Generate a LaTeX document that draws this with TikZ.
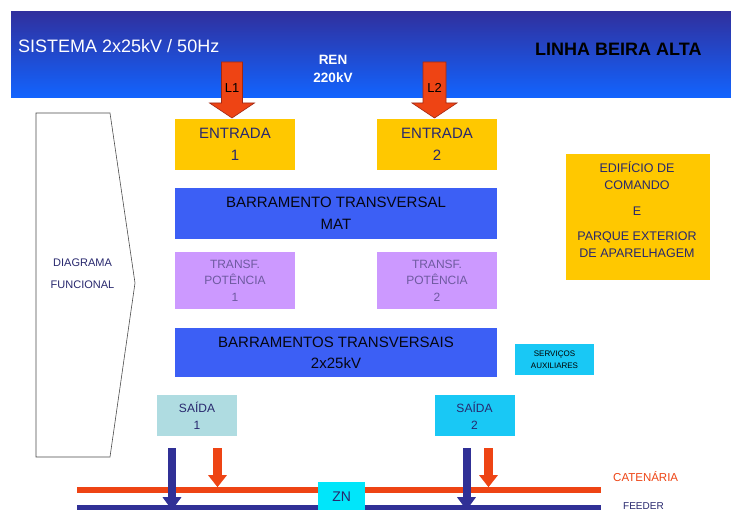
\documentclass[tikz,border=0pt]{standalone}
\usepackage{fontspec}
\setmainfont{Liberation Sans}
\usetikzlibrary{arrows.meta,calc}
\definecolor{bantop}{RGB}{48,48,158}
\definecolor{banbot}{RGB}{18,100,255}
\definecolor{busblue}{RGB}{60,95,245}
\definecolor{gold}{RGB}{255,200,0}
\definecolor{lav}{RGB}{204,153,255}
\definecolor{cyanbox}{RGB}{25,200,245}
\definecolor{paleteal}{RGB}{175,220,225}
\definecolor{zncyan}{RGB}{0,230,250}
\definecolor{arrred}{RGB}{238,68,20}
\definecolor{arrdark}{RGB}{160,40,20}
\definecolor{navy}{RGB}{40,40,110}
\definecolor{feedblue}{RGB}{48,48,150}
\definecolor{lavtext}{RGB}{110,90,160}
\begin{document}
\begin{tikzpicture}[x=1pt,y=-1pt,
  box/.style={inner sep=0pt, align=center},
  entry/.style={box, fill=gold, minimum width=120pt, minimum height=51pt, text=navy, font=\fontsize{15}{22}\selectfont},
  bus/.style={box, fill=busblue, minimum width=322pt, text={black!85!navy}, font=\fontsize{15}{22}\selectfont},
  trafo/.style={box, fill=lav, minimum width=120pt, minimum height=57pt, text=lavtext, font=\fontsize{12}{16.5}\selectfont},
  exitbox/.style={box, minimum width=80pt, minimum height=41pt, text=navy, font=\fontsize{12}{17}\selectfont},
  bigarrow/.style={fill=arrred, draw=arrdark, line width=0.6pt},
  feedarrow/.style={feedblue, line width=8pt, -{Triangle[width=18pt,length=13pt]}},
  catarrow/.style={arrred, line width=9pt, -{Triangle[width=18pt,length=12pt]}}]
\useasboundingbox (0,0) rectangle (731,510);
\fill[white] (0,0) rectangle (731,510);
% banner
\shade[top color=bantop, bottom color=banbot] (11,12) rectangle (731,98);
\node[anchor=base west, text=white, inner sep=0pt, font=\fontsize{18}{20}\selectfont] (sis) at (18,53) {SISTEMA 2x25kV / 50Hz};
\node[anchor=base west, inner sep=0pt, font=\bfseries\fontsize{18}{20}\selectfont] (linha) at (535,56) {LINHA BEIRA ALTA};
\node[box, text=white, font=\bfseries\fontsize{13.5}{18}\selectfont] (ren) at (333,69) {REN\\220kV};
% input arrows
\coordinate (l1) at (232,62);
\coordinate (l2) at (434.5,62);
\filldraw[bigarrow] (l1) ++(-10.5,0) -- ++(21,0) -- ++(0,41) -- ++(12,0) -- ++(-22.5,15) -- ++(-22.5,-15) -- ++(12,0) -- cycle;
\filldraw[bigarrow] (l2) ++(-11.5,0) -- ++(23,0) -- ++(0,41) -- ++(11,0) -- ++(-22.5,15) -- ++(-22.5,-15) -- ++(11,0) -- cycle;
\node[anchor=base, inner sep=0pt, font=\fontsize{13}{14}\selectfont] (l1t) at (232,93) {L1};
\node[anchor=base, inner sep=0pt, font=\fontsize{13}{14}\selectfont] (l2t) at (434.5,93) {L2};
% left functional arrow
\draw[draw=black!70, line width=0.6pt, fill=white] (36,113) -- (110,113) -- (135,283) -- (110,457) -- (36,457) -- cycle;
\node[box, text=navy, font=\fontsize{11}{22}\selectfont] (diag) at (82.5,274) {DIAGRAMA\\FUNCIONAL};
% main blocks
\node[entry] (e1) at (235,144.5) {ENTRADA\\1};
\node[entry] (e2) at (437,144.5) {ENTRADA\\2};
\node[bus, minimum height=51pt] (mat) at (336,213.5) {BARRAMENTO TRANSVERSAL\\MAT};
\node[trafo] (t1) at (235,280.5) {TRANSF.\\POTÊNCIA\\1};
\node[trafo] (t2) at (437,280.5) {TRANSF.\\POTÊNCIA\\2};
\node[bus, minimum height=49pt, font=\fontsize{15}{21}\selectfont] (b25) at (336,352.5) {BARRAMENTOS TRANSVERSAIS\\2x25kV};
\node[box, fill=cyanbox, minimum width=79pt, minimum height=31pt, font=\fontsize{8}{12.5}\selectfont] (aux) at (554.5,359.5) {SERVIÇOS\\AUXILIARES};
\node[box, fill=gold, minimum width=144pt, minimum height=126pt] (edif) at (638,217) {};
\node[box, text=navy, font=\fontsize{12.5}{17}\selectfont] (ediftxt) at (637,209.5) {EDIFÍCIO DE\\COMANDO\\[9pt]E\\[8pt]PARQUE EXTERIOR\\DE APARELHAGEM};
\node[exitbox, fill=paleteal] (s1) at (197,415.5) {SAÍDA\\1};
\node[exitbox, fill=cyanbox] (s2) at (474.5,415.5) {SAÍDA\\2};
% catenary / feeder
\coordinate (catw) at (77,490);
\coordinate (cate) at (601,490);
\coordinate (feedw) at (77,507.5);
\coordinate (feede) at (601,507.5);
\draw[arrred, line width=6pt] (catw) -- (cate);
\draw[feedblue, line width=5pt] (feedw) -- (feede);
\draw[catarrow] ($(s1.south)+(20.5,12)$) -- ($(s1.south)+(20.5,487-436)$);
\draw[catarrow] ($(s2.south)+(14,12)$) -- ($(s2.south)+(14,487-436)$);
\draw[feedarrow] ($(s1.south)+(-25,12)$) -- ($(s1.south)+(-25,74)$);
\draw[feedarrow] ($(s2.south)+(-8,12)$) -- ($(s2.south)+(-8,74)$);
\node[box, fill=zncyan, minimum width=47pt, minimum height=28pt, anchor=north west, text=navy, font=\fontsize{14}{16}\selectfont] (zn) at (318,482) {ZN};
\node[anchor=base west, inner sep=0pt, text=arrred, font=\fontsize{11.5}{13}\selectfont] (catt) at (613,481) {CATENÁRIA};
\node[anchor=base west, inner sep=0pt, text=navy, font=\fontsize{10}{12}\selectfont] (feedt) at (623,509) {FEEDER};
\end{tikzpicture}
\end{document}
